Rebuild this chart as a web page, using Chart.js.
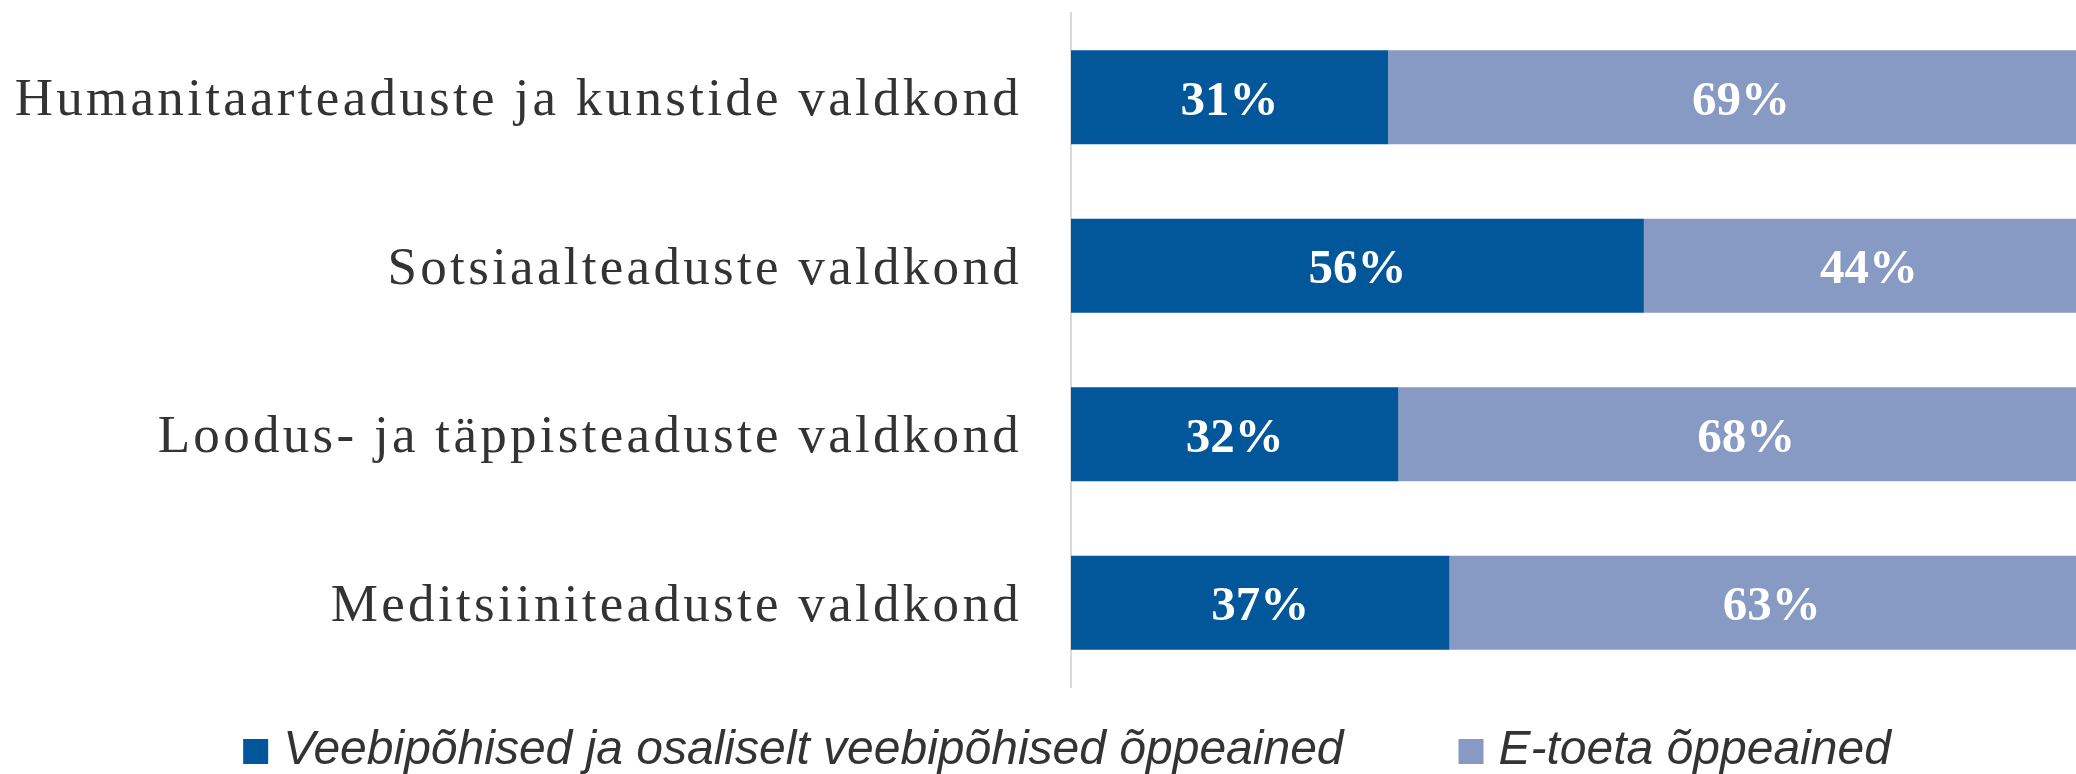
<!DOCTYPE html>
<html>
<head>
<meta charset="utf-8">
<script src="https://cdn.jsdelivr.net/npm/chart.js@4/dist/chart.umd.min.js"></script>
<style>
  html, body { margin: 0; padding: 0; background: #ffffff; overflow: hidden; width: 2076px; height: 774px; }
  #wrap { position: relative; width: 2076px; height: 774px; overflow: hidden; }
  canvas { display: block; }
</style>
</head>
<body>
<div id="wrap"><canvas id="c" width="2094" height="774"></canvas></div>
<script>
// ---- data ----
const categories = [
  "Humanitaarteaduste ja kunstide valdkond",
  "Sotsiaalteaduste valdkond",
  "Loodus- ja täppisteaduste valdkond",
  "Meditsiiniteaduste valdkond"
];
const seriesNames = [
  "Veebipõhised ja osaliselt veebipõhised õppeained",
  "E-toeta õppeained"
];
const webBased = [31, 56, 32, 37];
const noESupport = [69, 44, 68, 63];
const seriesColors = ["#02569A", "#869AC3"];

const AXIS_LEFT = 1071;

const yLabelPlugin = {
  id: 'yLabels',
  afterDraw(chart) {
    const ctx = chart.ctx;
    const y = chart.scales.y;
    ctx.save();
    ctx.font = "53px 'Liberation Serif', 'Times New Roman', serif";
    ctx.fillStyle = "#333333";
    ctx.textAlign = "right";
    ctx.textBaseline = "middle";
    try { ctx.letterSpacing = "3.3px"; } catch (e) {}
    chart.data.labels.forEach((lab, i) => {
      ctx.fillText(lab, AXIS_LEFT - 50 + 1, y.getPixelForValue(i) + 4);
    });
    ctx.restore();
  }
};

const valueLabelPlugin = {
  id: 'valueLabels',
  afterDatasetsDraw(chart) {
    const ctx = chart.ctx;
    ctx.save();
    ctx.font = "bold 49px 'Liberation Serif', 'Times New Roman', serif";
    ctx.fillStyle = "#ffffff";
    ctx.textAlign = "center";
    ctx.textBaseline = "middle";
    chart.data.datasets.forEach((ds, di) => {
      const meta = chart.getDatasetMeta(di);
      meta.data.forEach((el, i) => {
        const cx = (el.x + el.base) / 2;
        ctx.fillText(ds.data[i] + "%", cx, el.y + 5);
      });
    });
    ctx.restore();
  }
};

const legendPlugin = {
  id: 'customLegend',
  afterDraw(chart) {
    const ctx = chart.ctx;
    ctx.save();
    ctx.font = "italic 48px 'Liberation Sans', Arial, sans-serif";
    ctx.textBaseline = "middle";
    ctx.textAlign = "left";
    const box = 25, gapText = 15, gapItems = 115;
    const widths = seriesNames.map(n => ctx.measureText(n).width);
    const total = widths.reduce((a, w) => a + box + gapText + w, 0) + gapItems * (seriesNames.length - 1);
    let x = 1067 - total / 2;
    const boxTop = 739;
    seriesNames.forEach((n, i) => {
      ctx.fillStyle = seriesColors[i];
      ctx.fillRect(x, boxTop, box, box);
      ctx.fillStyle = "#333333";
      ctx.fillText(n, x + box + gapText, 751);
      x += box + gapText + widths[i] + gapItems;
    });
    ctx.restore();
  }
};

new Chart(document.getElementById('c'), {
  type: 'bar',
  data: {
    labels: categories,
    datasets: [
      { label: seriesNames[0], data: webBased, backgroundColor: seriesColors[0], borderWidth: 0 },
      { label: seriesNames[1], data: noESupport, backgroundColor: seriesColors[1], borderWidth: 0 }
    ]
  },
  options: {
    indexAxis: 'y',
    responsive: false,
    animation: false,
    devicePixelRatio: 1,
    layout: { padding: { left: 0, right: 0, top: 13, bottom: 87 } },
    datasets: { bar: { categoryPercentage: 1.0, barPercentage: 0.558 } },
    scales: {
      x: { stacked: true, min: 0, max: 100, display: false },
      y: {
        stacked: true,
        grid: { display: false },
        ticks: { display: false },
        border: { display: true, color: '#d9d9d9', width: 2 },
        afterFit(scale) { scale.width = AXIS_LEFT; }
      }
    },
    plugins: { legend: { display: false }, tooltip: { enabled: false } }
  },
  plugins: [yLabelPlugin, valueLabelPlugin, legendPlugin]
});
</script>
</body>
</html>
